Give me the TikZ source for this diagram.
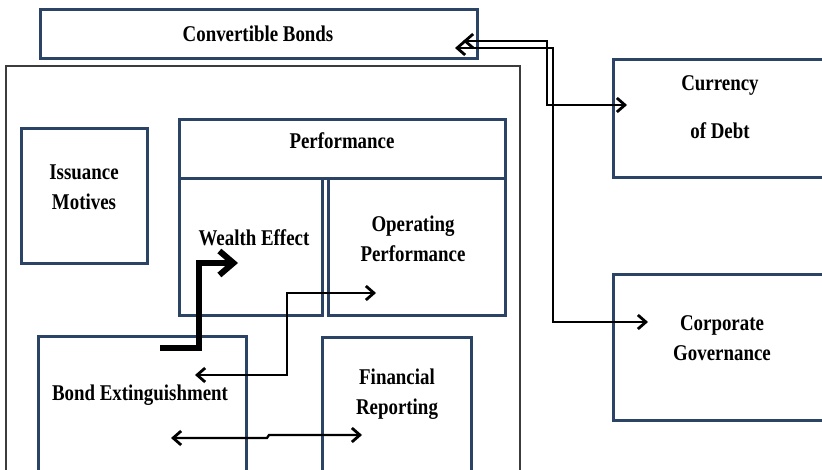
\documentclass[tikz,border=0pt]{standalone}
\usepackage{fontspec}
\setmainfont{Liberation Serif}[FakeStretch=0.84]
\usetikzlibrary{arrows.meta,fit}
\definecolor{boxblue}{HTML}{2B4466}
\definecolor{framegray}{HTML}{3C3C3C}

\begin{document}
\begin{tikzpicture}[x=1pt,y=-1pt,
  box/.style={draw=boxblue, line width=3pt, inner sep=0pt, rectangle},
  frame/.style={draw=framegray, line width=1.5pt, inner sep=0pt, rectangle},
  lbl/.style={font=\fontsize{22.5}{30}\selectfont\bfseries, inner sep=0pt, align=center},
  barb/.tip={Straight Barb[length=8pt,width=14pt,line width=2.8pt]},
  bigbarb/.tip={Straight Barb[length=14pt,width=24pt,line width=6pt]},
  link/.style={line width=2.3pt, line join=miter},
  boldlink/.style={line width=6pt, line join=miter, -bigbarb},
]
\useasboundingbox (0,0) rectangle (822,470);
\clip (0,0) rectangle (822,470);

% outer frame around the firm-level topics
\node[frame, fit={(6,66) (520,490)}] (outer) {};

% boxes
\node[box, fit={(40,10) (477,59)}] (cb) {};
\node[box, fit={(21,129) (147,264)}] (issue) {};
\node[box, fit={(179,120) (505,179)}] (perf) {};
\node[box, fit={(179,179) (322,316)}] (wealth) {};
\node[box, fit={(328,179) (505,316)}] (oper) {};
\node[box, fit={(38,337) (246,490)}] (bond) {};
\node[box, fit={(322,338) (471,490)}] (fin) {};
\node[box, fit={(613,60) (840,178)}] (curr) {};
\node[box, fit={(613,275) (840,420)}] (corp) {};

% labels
\node[lbl] (cbT) at (258,34) {Convertible Bonds};
\node[lbl] (issueT) at (84,187) {Issuance\\Motives};
\node[lbl] (perfT) at (342,141) {Performance};
\node[lbl] (wealthT) at (254,238) {Wealth Effect};
\node[lbl] (operT) at (413,239) {Operating\\Performance};
\node[lbl] (bondT) at (140,395) {Bond Extinguishment};
\node[lbl] (finT) at (397,394) {Financial\\Reporting};
\node[lbl] (currT) at (720,107) {Currency\\[18pt]of Debt};
\node[lbl] (corpT) at (722,338) {Corporate\\Governance};

% connector end points
\coordinate (cbA) at (463,41);
\coordinate (currA) at (627,105);
\coordinate (cbB) at (455,48);
\coordinate (corpB) at (648,322);
\coordinate (bondT1) at (160,348);
\coordinate (wealthT1) at (238,263);
\coordinate (bondC) at (195,375);
\coordinate (operC) at (376,293);
\coordinate (bondD) at (171,438);
\coordinate (finD) at (362,435);

% connectors
\draw[link, barb-barb] (cbA) -- (547,41) |- (currA);
\draw[link, barb-barb] (cbB) -- (553,48) |- (corpB);
\draw[boldlink] (bondT1) -- (199,348) |- (wealthT1);
\draw[link, barb-barb] (bondC) -- (287,375) |- (operC);
\draw[link, barb-barb] (bondD) -- (267,438) -- (269,435) -- (finD);
\end{tikzpicture}
\end{document}
